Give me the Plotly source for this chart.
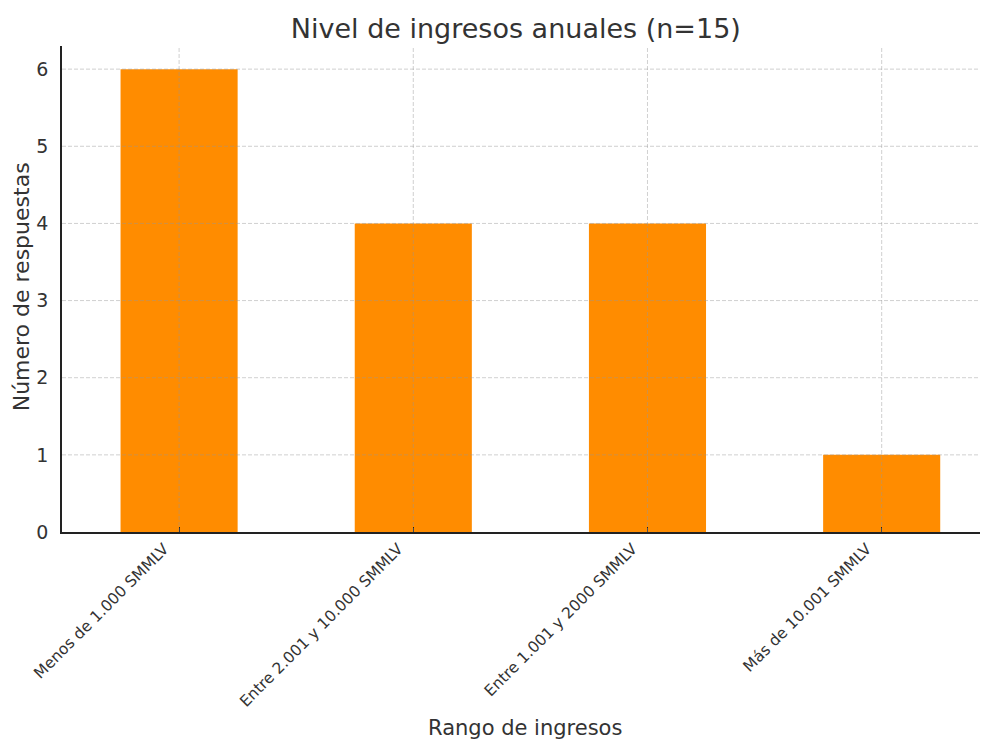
import plotly.graph_objects as go

categories = ["Menos de 1.000 SMMLV", "Entre 2.001 y 10.000 SMMLV", "Entre 1.001 y 2000 SMMLV", "Más de 10.001 SMMLV"]
counts = [6, 4, 4, 1]
y_ticks = [0, 1, 2, 3, 4, 5, 6]

x_pos = list(range(len(categories)))

fig = go.Figure()
fig.add_trace(go.Bar(x=x_pos, y=counts, width=0.5, marker=dict(color="#FF8C00", line=dict(width=0))))

font_family = "DejaVu Sans"
txt = "#333333"
grid_line = dict(color="rgba(150,150,150,0.45)", width=1, dash="4px,2px")

# gridlines drawn above the bars, as in the reference
for yv in y_ticks[1:]:
    fig.add_shape(type="line", xref="paper", yref="y", x0=0, x1=1, y0=yv, y1=yv,
                  line=grid_line, layer="above")
for xv in x_pos:
    fig.add_shape(type="line", xref="x", yref="paper", x0=xv, x1=xv, y0=0, y1=1,
                  line=grid_line, layer="above")

fig.update_layout(
    width=988, height=743,
    margin=dict(l=54, r=8, t=38, b=219, autoexpand=False),
    paper_bgcolor="white", plot_bgcolor="white",
    font=dict(family=font_family, color=txt),
    showlegend=False,
    title=dict(text="Nivel de ingresos anuales (n=15)", x=0.514, xanchor="center",
               y=0.973, yanchor="middle", font=dict(size=27, color=txt)),
    xaxis=dict(
        range=[-0.5, 3.454], tickmode="array", tickvals=x_pos, ticktext=categories,
        tickangle=-45, tickfont=dict(size=15.5, color=txt),
        ticklabelshift=-15, ticklabelstandoff=0,
        showgrid=False,
        showline=True, linecolor="#222222", linewidth=1.5,
        ticks="inside", ticklen=5, tickcolor="#222222",
        zeroline=False, automargin=False,
    ),
    yaxis=dict(
        range=[0, 6.3], tickmode="array", tickvals=y_ticks,
        tickfont=dict(size=19, color=txt),
        showgrid=False, ticks="", ticklabelstandoff=8,
        showline=True, linecolor="#222222", linewidth=1.5,
        zeroline=False, automargin=False,
    ),
    annotations=[
        dict(text="Rango de ingresos", xref="paper", yref="paper", x=0.5, y=-0.403,
             xanchor="center", yanchor="middle", showarrow=False,
             font=dict(size=21, color=txt)),
        dict(text="Número de respuestas", xref="paper", yref="paper", x=-0.044, y=0.504,
             xanchor="center", yanchor="middle", textangle=-90, showarrow=False,
             font=dict(size=22, color=txt)),
    ],
)

fig.write_html("out.html")
